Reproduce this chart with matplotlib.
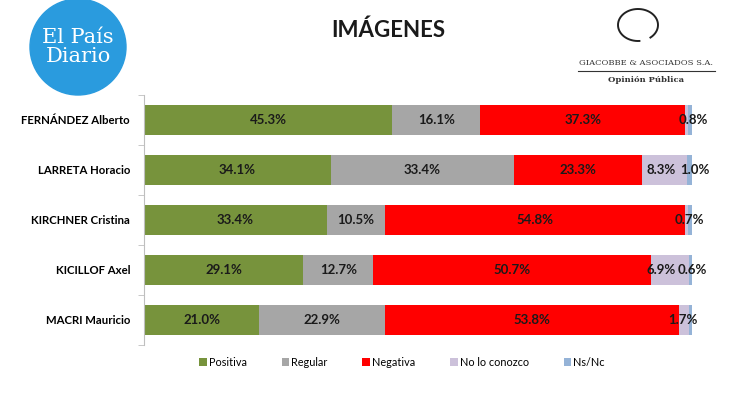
import numpy as np
import matplotlib.pyplot as plt
from matplotlib.patches import Ellipse

# --- DATA ---
candidates = ['FERNÁNDEZ Alberto', 'LARRETA Horacio', 'KIRCHNER Cristina',
              'KICILLOF Axel', 'MACRI Mauricio']
series = ['Positiva', 'Regular', 'Negativa', 'No lo conozco', 'Ns/Nc']
positiva = [45.3, 34.1, 33.4, 29.1, 21.0]
regular = [16.1, 33.4, 10.5, 12.7, 22.9]
negativa = [37.3, 23.3, 54.8, 50.7, 53.8]
no_conozco = [0.5, 8.3, 0.6, 6.9, 1.7]
ns_nc = [0.8, 1.0, 0.7, 0.6, 0.6]
# which segments carry a label
show_label = [
    [True, True, True, False, True],
    [True, True, True, True, True],
    [True, True, True, False, True],
    [True, True, True, True, True],
    [True, True, True, True, False],
]
colors = ['#77933C', '#A6A6A6', '#FF0000', '#CCC1DA', '#95B3D7']

# nudges (data units) for the labels of the thin segments at the bar end
nudge = {(0, 4): 0.6, (1, 3): -0.6, (1, 4): 0.9, (2, 4): -0.1,
         (3, 3): -1.5, (3, 4): 0.3, (4, 3): -0.3}

plt.rcParams['font.family'] = ['Lato', 'DejaVu Sans']

fig = plt.figure(figsize=(7.53, 3.97), dpi=100)
ax = fig.add_axes([144 / 753, 1 - 345 / 397, 548 / 753, 250 / 397])

data = [positiva, regular, negativa, no_conozco, ns_nc]
y = np.arange(len(candidates))
left = np.zeros(len(candidates))
for k, (name, vals) in enumerate(zip(series, data)):
    vals = np.array(vals)
    ax.barh(y, vals, left=left, height=0.6, color=colors[k], label=name)
    for i, v in enumerate(vals):
        if show_label[i][k]:
            xpos = left[i] + v / 2 + nudge.get((i, k), 0)
            ax.text(xpos, y[i], f'{v:.1f}%', ha='center', va='center',
                    fontsize=9.5, fontweight='bold', color='#1a1a1a')
    left += vals

ax.set_xlim(0, 100)
ax.set_ylim(len(candidates) - 0.5, -0.5)
ax.set_yticks(y)
ax.set_yticklabels(candidates, fontsize=8.2, fontweight='bold')
ax.tick_params(axis='y', which='major', length=0, pad=10)
ax.set_yticks(np.arange(-0.5, len(candidates)), minor=True)
ax.tick_params(axis='y', which='minor', length=4, color='#BFBFBF')
ax.set_xticks([])
for s in ['top', 'right', 'bottom']:
    ax.spines[s].set_visible(False)
ax.spines['left'].set_color('#BFBFBF')

leg = fig.legend(loc='center', bbox_to_anchor=(402 / 753, 1 - 362 / 397), ncol=5,
                 frameon=False, fontsize=7.8, handlelength=0.7, handleheight=0.7,
                 handletextpad=0.2, columnspacing=3.2)

# title
fig.text(388 / 753, 1 - 30 / 397, 'IMÁGENES', ha='center', va='center',
         fontsize=16, fontweight='bold', color='#1a1a1a')

# El País Diario logo
fig.patches.append(Ellipse((78 / 753, 1 - 47 / 397), 96 / 753, 96 / 397,
                           transform=fig.transFigure, color='#2A9BDE', zorder=0))
fig.text(78 / 753, 1 - 47 / 397, 'El País\nDiario', ha='center', va='center',
         fontsize=15, color='white', family='DejaVu Serif', linespacing=0.95)

# Giacobbe logo
t = np.linspace(0.3, 2 * np.pi - 0.3, 60)
gx = 638 + 20 * np.cos(t + 1.2)
gy = 25 + 16 * np.sin(t + 1.2)
fig.add_artist(plt.Line2D(gx / 753, 1 - gy / 397, color='#222222', lw=1.4,
                          transform=fig.transFigure))
fig.text(646 / 753, 1 - 63 / 397, 'GIACOBBE & ASOCIADOS S.A.', ha='center',
         va='center', fontsize=6, family='DejaVu Serif', color='#333333')
fig.add_artist(plt.Line2D([578 / 753, 715 / 753], [1 - 71 / 397, 1 - 71 / 397],
                          color='#333333', lw=0.8, transform=fig.transFigure))
fig.text(646 / 753, 1 - 80 / 397, 'Opinión Pública', ha='center', va='center',
         fontsize=6, fontweight='bold', family='DejaVu Serif', color='#333333')

fig.savefig('out.png', dpi=100)
